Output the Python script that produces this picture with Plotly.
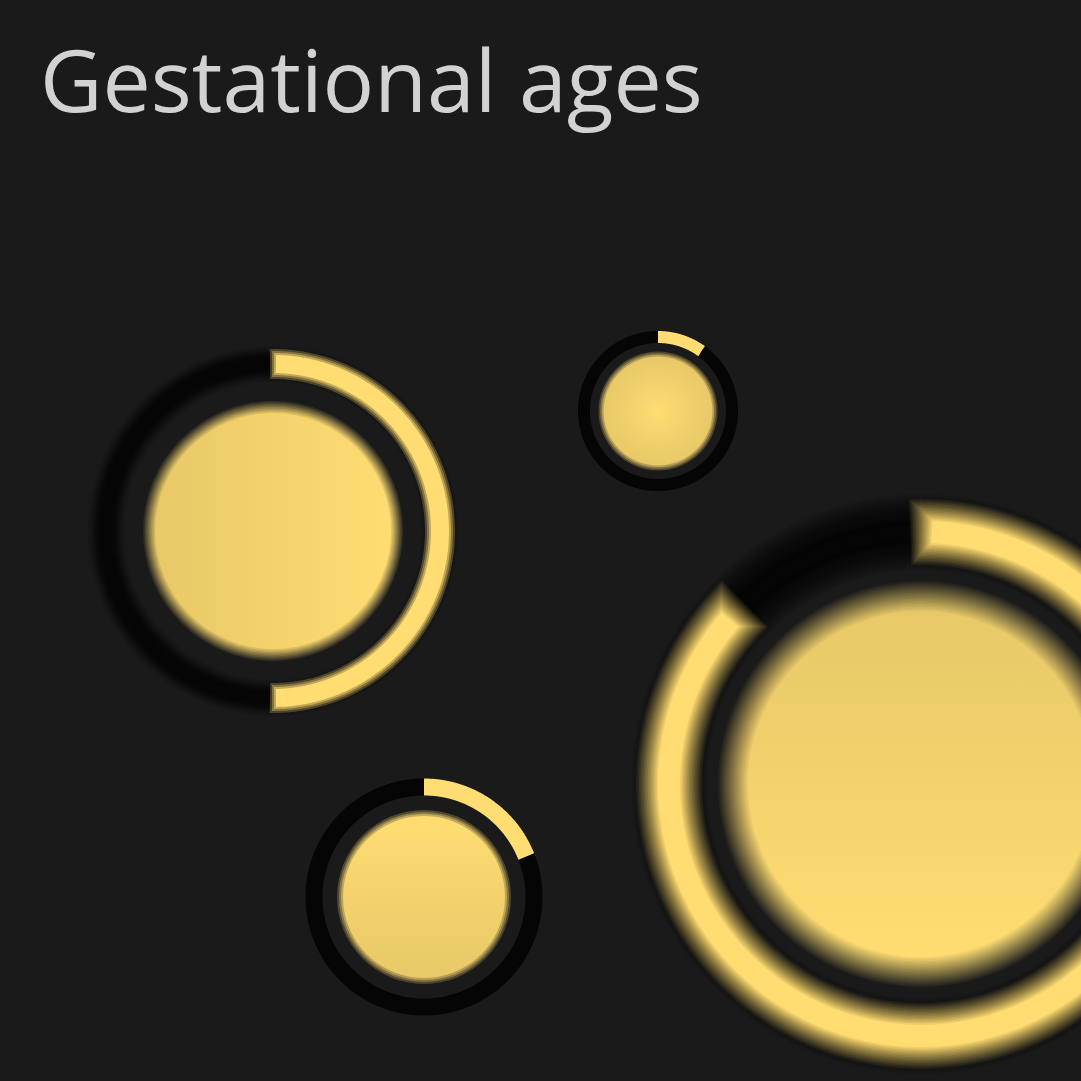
import numpy as np
import plotly.graph_objects as go

# --- DATA ---
# weeks of pregnancy reached by each of the four, out of a full term
labels = ["late", "mid", "early", "very early"]
weeks = [34.8, 20.0, 7.6, 4.0]
TERM_WEEKS = 40

# --- LAYOUT (pixels, canvas is 1081 x 1081, y grows downwards) ---
SIZE = 1081
center_x = [921, 273, 424, 658]
center_y = [784, 531, 897, 411]
ring_radius = [252, 167, 110, 74]      # radius of the ring's middle line
ring_width = [44, 24, 17, 12]
blob_radius = [188, 124, 84, 57]
ring_blur = [11, 3, 0.6, 0.6]           # fake depth of field
track_blur = [16, 6, 0.6, 0.6]
blob_blur = [15, 6, 3, 2.5]
shading = ["vertical_dark_top", "horizontal", "vertical", "radial"]

BG = "#1a1a1a"
YELLOW = (255, 221, 114)
SHADE = (232, 200, 104)
DARK = (5, 5, 5)


def rgba(c, a=1.0):
    return f"rgba({c[0]},{c[1]},{c[2]},{a:.3f})"


def soft_arc(fig, cx, cy, R, share, color, width, b):
    """Arc drawn several times, wide+long+faint to narrow+short+solid, for a blurred edge."""
    n = max(1, int(round(b * 1.5)))
    steps = np.linspace(1, -1, n) if n > 1 else np.array([0.0])
    for j, k in enumerate(steps):
        w = max(width + 2 * b * k, 1)
        if share >= 1:
            t = np.linspace(0, 2 * np.pi, 721)
        else:
            ext = b * k / R
            t = np.linspace(-ext, 2 * np.pi * share + ext, 480)
        fig.add_trace(go.Scatter(
            x=cx + R * np.sin(t), y=cy - R * np.cos(t), mode="lines",
            line=dict(color=rgba(color, 1.0 / (n - j)), width=w, simplify=False),
            hoverinfo="skip", showlegend=False,
        ))


def blob_colors(shade, a):
    # the grainy side of each blob reads as a dirtier yellow
    if shade == "horizontal":
        return rgba(SHADE, a), dict(type="horizontal", color=rgba(YELLOW, a))
    if shade == "vertical":
        return rgba(YELLOW, a), dict(type="vertical", color=rgba(SHADE, a))
    if shade == "vertical_dark_top":
        return rgba(SHADE, a), dict(type="vertical", color=rgba(YELLOW, a))
    return rgba(SHADE, a), dict(type="radial", color=rgba(YELLOW, a))


def soft_blob(fig, cx, cy, r, b, shade):
    n = max(1, int(round(b * 1.5)))
    sizes = np.linspace(2 * (r + b), 2 * (r - b), n) if n > 1 else [2 * r]
    for j, s in enumerate(sizes):
        color, gradient = blob_colors(shade, 1.0 / (n - j))
        fig.add_trace(go.Scatter(
            x=[cx], y=[cy], mode="markers",
            marker=dict(size=s, color=color, gradient=gradient, line=dict(width=0)),
            hoverinfo="skip", showlegend=False,
        ))


fig = go.Figure()

for i in range(len(weeks)):
    share = weeks[i] / TERM_WEEKS
    # full dark track, then the elapsed share in yellow, clockwise from 12 o'clock
    soft_arc(fig, center_x[i], center_y[i], ring_radius[i], 1, DARK, ring_width[i], track_blur[i])
    soft_arc(fig, center_x[i], center_y[i], ring_radius[i], share, YELLOW, ring_width[i], ring_blur[i])
    soft_blob(fig, center_x[i], center_y[i], blob_radius[i], blob_blur[i], shading[i])

fig.update_layout(
    width=SIZE, height=SIZE,
    margin=dict(l=0, r=0, t=0, b=0),
    paper_bgcolor=BG, plot_bgcolor=BG,
    title=dict(
        text="Gestational ages",
        font=dict(family="Open Sans", size=86, color="#d2d2d2"),
        x=40 / SIZE, xanchor="left", xref="container",
        y=1 - 52 / SIZE, yanchor="top", yref="container",
    ),
    xaxis=dict(range=[0, SIZE], visible=False, fixedrange=True),
    yaxis=dict(range=[SIZE, 0], visible=False, fixedrange=True),
)

fig.write_html(
    "out.html",
    config={"displayModeBar": False},
    post_script="document.body.style.margin='0';document.body.style.background='#1a1a1a';",
)
